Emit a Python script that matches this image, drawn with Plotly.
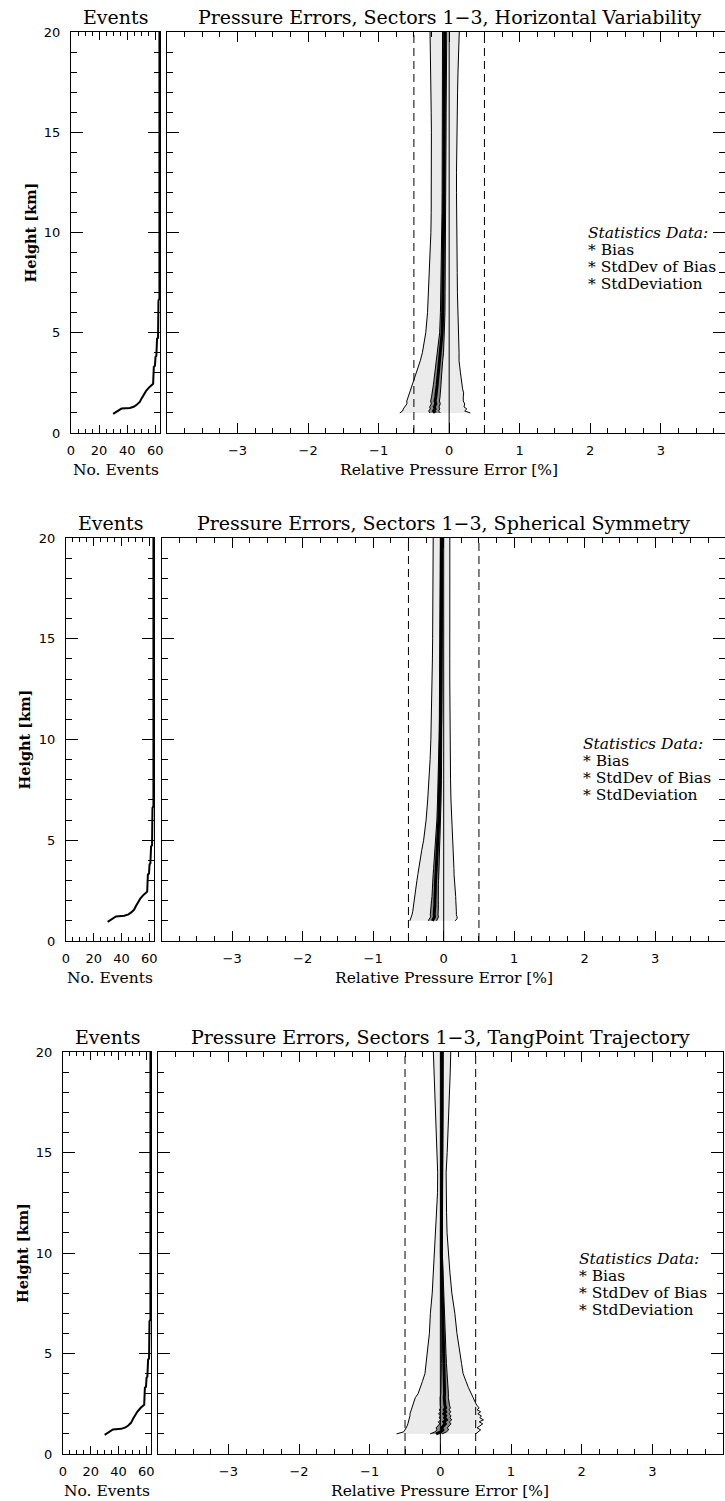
import plotly.graph_objects as go

W, H = 725, 1501

# ---------------- data ----------------
titles = [
    "Pressure Errors, Sectors 1\u22123, Horizontal Variability",
    "Pressure Errors, Sectors 1\u22123, Spherical Symmetry",
    "Pressure Errors, Sectors 1\u22123, TangPoint Trajectory",
]

# Panel 1: Horizontal Variability
h1 = [1.0, 1.1, 1.2, 1.3, 1.45, 1.6, 1.8, 2.0, 2.2, 2.4, 2.6, 2.8, 3.0, 3.3, 3.6, 4.0, 4.5, 5.0,
      6.0, 7.0, 8.0, 9.0, 10, 11, 12, 13, 14, 15, 16, 17, 18, 19, 20]
bias1 = [-0.20, -0.22, -0.20, -0.21, -0.19, -0.20, -0.19, -0.18, -0.18, -0.17, -0.165, -0.16, -0.155,
         -0.14, -0.135, -0.12, -0.11, -0.10, -0.092, -0.088, -0.084, -0.08, -0.077, -0.075, -0.074,
         -0.073, -0.072, -0.071, -0.07, -0.069, -0.068, -0.066, -0.064]
std1 = [0.50, 0.44, 0.45, 0.42, 0.41, 0.40, 0.39, 0.385, 0.37, 0.355, 0.34, 0.33, 0.315, 0.29, 0.275,
        0.26, 0.245, 0.232, 0.215, 0.205, 0.198, 0.19, 0.182, 0.18, 0.178, 0.177, 0.178, 0.181, 0.185,
        0.188, 0.193, 0.199, 0.207]
sdb1 = [0.075, 0.07, 0.068, 0.066, 0.064, 0.062, 0.06, 0.058, 0.056, 0.054, 0.052, 0.05, 0.048, 0.045,
        0.043, 0.04, 0.037, 0.035, 0.032, 0.03, 0.029, 0.028, 0.027, 0.027, 0.026, 0.026, 0.026,
        0.027, 0.027, 0.028, 0.028, 0.029, 0.03]

# Panel 2: Spherical Symmetry
h2 = [1.0, 1.1, 1.2, 1.3, 1.45, 1.6, 1.8, 2.0, 2.2, 2.4, 2.6, 2.8, 3.0, 3.3, 3.6, 4.0, 4.5, 5.0,
      6.0, 7.0, 8.0, 9.0, 10, 11, 12, 13, 14, 15, 16, 17, 18, 19, 20]
bias2 = [-0.16, -0.14, -0.13, -0.135, -0.13, -0.13, -0.125, -0.125, -0.12, -0.12, -0.118, -0.118,
         -0.115, -0.11, -0.105, -0.098, -0.09, -0.08, -0.07, -0.062, -0.055, -0.05, -0.046, -0.043,
         -0.041, -0.039, -0.037, -0.036, -0.035, -0.034, -0.033, -0.032, -0.031]
std2 = [0.32, 0.33, 0.32, 0.315, 0.31, 0.305, 0.30, 0.297, 0.29, 0.285, 0.278, 0.27, 0.265, 0.257,
        0.25, 0.238, 0.222, 0.205, 0.18, 0.165, 0.152, 0.143, 0.136, 0.131, 0.128, 0.125, 0.123,
        0.121, 0.12, 0.119, 0.118, 0.118, 0.118]
sdb2 = [0.06, 0.058, 0.056, 0.055, 0.054, 0.052, 0.05, 0.048, 0.046, 0.045, 0.044, 0.043, 0.042,
        0.04, 0.038, 0.036, 0.033, 0.03, 0.027, 0.025, 0.023, 0.021, 0.02, 0.019, 0.018, 0.018,
        0.017, 0.017, 0.017, 0.017, 0.017, 0.017, 0.017]

# Panel 3: TangPoint Trajectory
h3 = [1.0, 1.1, 1.2, 1.3, 1.4, 1.5, 1.6, 1.7, 1.8, 1.9, 2.0, 2.1, 2.2, 2.3, 2.4, 2.5, 2.6, 2.8,
      3.0, 3.3, 3.6, 4.0, 4.5, 5.0, 6.0, 7.0, 8.0, 9.0, 10, 11, 12, 13, 14, 15, 16, 17, 18, 19, 20]
bias3 = [-0.06, 0.005, 0.035, 0.02, 0.045, 0.07, 0.05, 0.085, 0.06, 0.075, 0.05, 0.075, 0.055,
         0.075, 0.065, 0.06, 0.06, 0.055, 0.06, 0.058, 0.055, 0.052, 0.05, 0.047, 0.04, 0.032, 0.024,
         0.018, 0.014, 0.015, 0.018, 0.021, 0.022, 0.024, 0.024, 0.024, 0.024, 0.025, 0.024]
std3 = [0.56, 0.525, 0.535, 0.50, 0.515, 0.53, 0.50, 0.525, 0.50, 0.505, 0.48, 0.495, 0.465, 0.475,
        0.455, 0.44, 0.43, 0.41, 0.375, 0.34, 0.31, 0.27, 0.25, 0.232, 0.195, 0.173, 0.139, 0.118,
        0.099, 0.08, 0.07, 0.061, 0.06, 0.073, 0.086, 0.096, 0.106, 0.115, 0.123]
sdb3 = [0.085, 0.082, 0.082, 0.08, 0.08, 0.079, 0.078, 0.077, 0.076, 0.075, 0.074, 0.072, 0.07,
        0.068, 0.066, 0.064, 0.062, 0.058, 0.054, 0.049, 0.045, 0.04, 0.036, 0.033, 0.028, 0.024,
        0.02, 0.017, 0.014, 0.012, 0.011, 0.01, 0.01, 0.011, 0.012, 0.013, 0.014, 0.015, 0.016]

# Number of events vs height (same profile in each panel)
ev_h = [0.95, 1.05, 1.15, 1.22, 1.25, 1.32, 1.42, 1.55, 1.75, 1.95, 2.1, 2.3, 2.45, 3.3, 3.35,
        3.8, 3.85, 4.7, 4.75, 6.6, 6.7, 20]
ev_n = [30, 32.5, 35, 36, 42, 45, 47, 49, 50.5, 52, 53.5, 56, 58.5, 59, 59.8, 60.2, 60.8, 61.3,
        62, 62.3, 63, 63]

ref_lines = [-0.5, 0.5]
zero_line = [0.0]
height_span = [0, 20]
main_ticks = [-3, -2, -1, 0, 1, 2, 3]
ev_ticks = [0, 20, 40, 60]
h_ticks = [0, 5, 10, 15, 20]
legend_lines = ["* Bias", "* StdDev of Bias", "* StdDeviation"]

panels = [
    dict(h=h1, bias=bias1, std=std1, sdb=sdb1),
    dict(h=h2, bias=bias2, std=std2, sdb=sdb2),
    dict(h=h3, bias=bias3, std=std3, sdb=sdb3),
]

# ---------------- layout geometry (pixels) ----------------
geom = [
    dict(ex=(71, 160), mx=(167, 725), mr=(-4, 3.91), y=(32, 433), leg=(586, 233), hx=30),
    dict(ex=(66, 154), mx=(161.7, 725), mr=(-4, 3.99), y=(538, 941), leg=(581, 744), hx=24),
    dict(ex=(63, 151), mx=(157.7, 723), mr=(-4, 4.0), y=(1052, 1454), leg=(577, 1259), hx=22),
]

SERIF = "DejaVu Serif"
SANS = "DejaVu Sans"
LIGHT = "#ebebeb"
DARK = "#8a8a8a"

fig = go.Figure()
layout = dict(width=W, height=H, margin=dict(l=0, r=0, t=0, b=0, pad=0, autoexpand=False),
              paper_bgcolor="white", plot_bgcolor="white", showlegend=False)
annotations = []


def px(x):
    return x / W


def py(y):
    return 1 - y / H


for k, (p, g) in enumerate(zip(panels, geom)):
    ei = 2 * k + 1
    mi = 2 * k + 2
    ex_ref = "x" if ei == 1 else f"x{ei}"
    ey_ref = "y" if ei == 1 else f"y{ei}"
    mx_ref = f"x{mi}"
    my_ref = f"y{mi}"
    ydom = [py(g["y"][1]), py(g["y"][0])]

    base = dict(showline=True, linecolor="black", linewidth=1, mirror="allticks",
                ticks="inside", tickcolor="black", showgrid=False, zeroline=False,
                automargin=False,
                tickfont=dict(family=SANS, size=13, color="black"))

    # events axes
    layout["xaxis" if ei == 1 else f"xaxis{ei}"] = dict(
        base, domain=[px(g["ex"][0]), px(g["ex"][1])], range=[0, 63.4], anchor=ey_ref,
        tickmode="array", tickvals=ev_ticks, ticklen=8, ticklabelstandoff=5,
        minor=dict(dtick=5, tick0=0, ticklen=4, ticks="inside", tickcolor="black"))
    layout["yaxis" if ei == 1 else f"yaxis{ei}"] = dict(
        base, domain=ydom, range=[0, 20], anchor=ex_ref,
        tickmode="array", tickvals=h_ticks, ticklen=12, ticklabelstandoff=7,
        minor=dict(dtick=1, tick0=0, ticklen=6, ticks="inside", tickcolor="black"))
    # main axes
    layout[f"xaxis{mi}"] = dict(
        base, domain=[px(g["mx"][0]), px(g["mx"][1])], range=list(g["mr"]), anchor=my_ref,
        tickmode="array", tickvals=main_ticks, ticklen=10, ticklabelstandoff=5,
        minor=dict(dtick=0.25, tick0=0, ticklen=5, ticks="inside", tickcolor="black"))
    layout[f"yaxis{mi}"] = dict(
        base, domain=ydom, range=[0, 20], anchor=mx_ref, showticklabels=False,
        tickmode="array", tickvals=h_ticks, ticklen=12,
        minor=dict(dtick=1, tick0=0, ticklen=6, ticks="inside", tickcolor="black"))

    h = p["h"]
    lo = [b - s for b, s in zip(p["bias"], p["std"])]
    hi = [b + s for b, s in zip(p["bias"], p["std"])]
    dlo = [b - s for b, s in zip(p["bias"], p["sdb"])]
    dhi = [b + s for b, s in zip(p["bias"], p["sdb"])]

    # StdDeviation band
    fig.add_trace(go.Scatter(x=lo + hi[::-1], y=h + h[::-1], mode="lines", fill="toself",
                             fillcolor=LIGHT, line=dict(width=0), xaxis=mx_ref, yaxis=my_ref,
                             hoverinfo="skip"))
    for edge in (lo, hi):
        fig.add_trace(go.Scatter(x=edge, y=h, mode="lines", line=dict(color="black", width=1),
                                 xaxis=mx_ref, yaxis=my_ref))
    # StdDev of Bias band
    fig.add_trace(go.Scatter(x=dlo + dhi[::-1], y=h + h[::-1], mode="lines", fill="toself",
                             fillcolor=DARK, line=dict(width=0), xaxis=mx_ref, yaxis=my_ref,
                             hoverinfo="skip"))
    for edge in (dlo, dhi):
        fig.add_trace(go.Scatter(x=edge, y=h, mode="lines", line=dict(color="black", width=1),
                                 xaxis=mx_ref, yaxis=my_ref))
    # Bias
    fig.add_trace(go.Scatter(x=p["bias"], y=h, mode="lines", line=dict(color="black", width=3),
                             xaxis=mx_ref, yaxis=my_ref))
    # reference lines
    for v in zero_line:
        fig.add_trace(go.Scatter(x=[v, v], y=height_span, mode="lines",
                                 line=dict(color="black", width=1), xaxis=mx_ref, yaxis=my_ref))
    for v in ref_lines:
        fig.add_trace(go.Scatter(x=[v, v], y=height_span, mode="lines",
                                 line=dict(color="black", width=1, dash="8px,5px"),
                                 xaxis=mx_ref, yaxis=my_ref))
    # events
    fig.add_trace(go.Scatter(x=ev_n, y=ev_h, mode="lines", line=dict(color="black", width=2),
                             line_shape="linear", xaxis=ex_ref, yaxis=ey_ref))

    ytop, ybot = g["y"]
    ecx = (g["ex"][0] + g["ex"][1]) / 2
    mcx = g["mx"][0] + (0 - g["mr"][0]) / (g["mr"][1] - g["mr"][0]) * (g["mx"][1] - g["mx"][0])
    # titles
    annotations.append(dict(text="Events", x=px(ecx), y=py(ytop - 15), xref="paper", yref="paper",
                            showarrow=False, xanchor="center", yanchor="middle",
                            font=dict(family=SERIF, size=19, color="black")))
    annotations.append(dict(text=titles[k], x=px(mcx), y=py(ytop - 15), xref="paper", yref="paper",
                            showarrow=False, xanchor="center", yanchor="middle",
                            font=dict(family=SERIF, size=19, color="black")))
    # axis titles
    annotations.append(dict(text="No. Events", x=px(ecx), y=py(ybot + 37), xref="paper",
                            yref="paper", showarrow=False, xanchor="center", yanchor="middle",
                            font=dict(family=SERIF, size=15.5, color="black")))
    annotations.append(dict(text="Relative Pressure Error [%]", x=px(mcx), y=py(ybot + 37),
                            xref="paper", yref="paper", showarrow=False, xanchor="center",
                            yanchor="middle", font=dict(family=SERIF, size=15.5, color="black")))
    annotations.append(dict(text="<b>Height [km]</b>", x=px(g["hx"]), y=py((ytop + ybot) / 2),
                            xref="paper", yref="paper", showarrow=False, textangle=-90,
                            xanchor="center", yanchor="middle",
                            font=dict(family=SERIF, size=14.5, color="black")))
    # statistics legend
    lx, ly = g["leg"]
    annotations.append(dict(text="<i>Statistics Data:</i>", x=px(lx), y=py(ly), xref="paper",
                            yref="paper", showarrow=False, xanchor="left", yanchor="middle",
                            font=dict(family=SERIF, size=15.5, color="black")))
    for j, t in enumerate(legend_lines):
        annotations.append(dict(text=t, x=px(lx), y=py(ly + 17 * (j + 1)), xref="paper",
                                yref="paper", showarrow=False, xanchor="left", yanchor="middle",
                                font=dict(family=SERIF, size=15.5, color="black")))

layout["annotations"] = annotations
fig.update_layout(**layout)
fig.write_html("out.html")
